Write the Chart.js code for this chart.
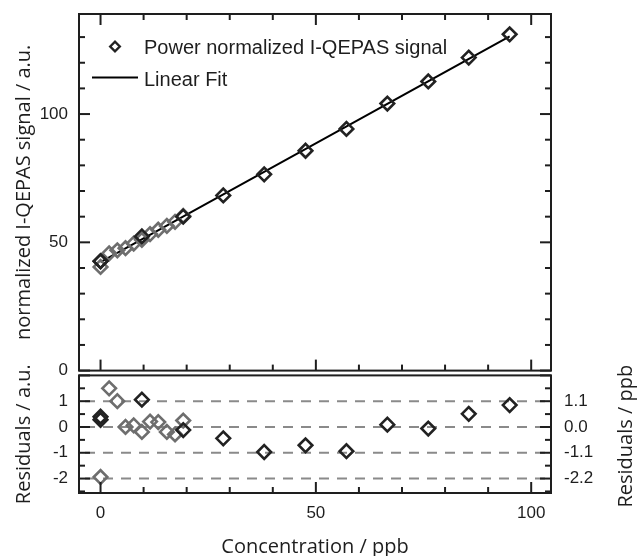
<!DOCTYPE html>
<html>
<head>
<meta charset="utf-8">
<script src="https://cdn.jsdelivr.net/npm/chart.js@4.4.1/dist/chart.umd.min.js"></script>
<style>
  body { margin: 0; background: #fff; }
  #wrap { position: relative; width: 638px; height: 556px; }
  canvas { position: absolute; left: 0; }
  #top { top: 0; }
  #res { top: 366px; }
</style>
</head>
<body>
<div id="wrap">
  <canvas id="top" width="638" height="380"></canvas>
  <canvas id="res" width="638" height="190"></canvas>
</div>
<script>
// dark diamonds, 0 - 95 ppb
let darkConc = [0, 0, 9.6, 19.2, 28.5, 38.0, 47.6, 57.1, 66.6, 76.1, 85.5, 95.0];
let darkSignal = [42.7, 42.6, 52.3, 60.0, 68.3, 76.5, 85.7, 94.2, 104.1, 112.7, 122.0, 131.1];
let darkResid = [0.40, 0.28, 1.06, -0.12, -0.44, -0.97, -0.71, -0.94, 0.09, -0.06, 0.51, 0.85];
// grey diamonds, 0 - 19 ppb
let grayConc = [0, 2.0, 3.9, 5.8, 7.7, 9.6, 11.5, 13.4, 15.4, 17.3, 19.2];
let graySignal = [40.4, 45.7, 46.9, 47.7, 49.5, 51.0, 53.2, 54.9, 56.4, 58.0, 60.3];
let grayResid = [-1.94, 1.50, 1.00, 0.00, 0.06, -0.19, 0.21, 0.19, -0.19, -0.29, 0.25];
// linear fit
let fitConc = [0, 95];
let fitSignal = [42.3, 130.3];
// ticks
let xTicks = [0, 50, 100];
let yTicks = [0, 50, 100];
let residTicks = [-2, -1, 0, 1];
let residPpbLabels = ["-2.2", "-1.1", "0.0", "1.1"];
let residGuides = [1, 0, -1, -2];

let pts = (xs, ys) => xs.map((x, i) => ({ x: x, y: ys[i] }));

let DARK = "#222222";
let GRAY = "#6e6e6e";
let tickFont = { family: "'Liberation Sans', Arial", size: 17 };
let titleFont = { family: "'Open Sans'", size: 20, lineHeight: 1.2 };

// fixed axis size, no extra label padding so both panels line up
let fixW = (w) => (s) => {
  s.width = w;
  s.paddingTop = 0; s.paddingBottom = 0; s.paddingLeft = 0; s.paddingRight = 0;
};
let fixH = (h) => (s) => {
  s.height = h;
  s.paddingTop = 0; s.paddingBottom = 0; s.paddingLeft = 0; s.paddingRight = 0;
};

// frame with inward ticks on the plot box
let framePlugin = {
  id: "frame",
  afterDatasetsDraw(chart, args, opts) {
    let ctx = chart.ctx;
    let a = chart.chartArea;
    let xs = chart.scales.x;
    let ys = chart.scales.y;
    ctx.save();
    ctx.strokeStyle = "#1e1e1e";
    ctx.lineWidth = 2;
    let seg = (x1, y1, x2, y2) => {
      ctx.beginPath();
      ctx.moveTo(x1, y1);
      ctx.lineTo(x2, y2);
      ctx.stroke();
    };
    for (let i = Math.ceil(xs.min / opts.xStep); i * opts.xStep <= xs.max; i++) {
      let v = i * opts.xStep;
      let px = xs.getPixelForValue(v);
      let len = Math.abs(v % opts.xMajor) < 1e-9 ? 11 : 6;
      if (opts.top) seg(px, a.top, px, a.top + len);
      if (opts.bottom) seg(px, a.bottom, px, a.bottom - len);
    }
    for (let i = Math.ceil(ys.min / opts.yStep - 1e-9); i * opts.yStep <= ys.max + 1e-9; i++) {
      let v = i * opts.yStep;
      let py = ys.getPixelForValue(v);
      let len = Math.abs(v % opts.yMajor) < 1e-9 ? 11 : 6;
      seg(a.left, py, a.left + len, py);
      seg(a.right, py, a.right - len, py);
    }
    ctx.strokeRect(a.left, a.top, a.width, a.height);
    ctx.restore();
  }
};

// dashed guide lines in the residual panel + right title (reads bottom to top)
let guidePlugin = {
  id: "guides",
  beforeDatasetsDraw(chart) {
    let ctx = chart.ctx;
    let a = chart.chartArea;
    let ys = chart.scales.y;
    ctx.save();
    ctx.strokeStyle = "#8a8a8a";
    ctx.lineWidth = 2;
    ctx.setLineDash([10, 8]);
    for (let v of residGuides) {
      let py = ys.getPixelForValue(v);
      ctx.beginPath();
      ctx.moveTo(a.left + 6, py);
      ctx.lineTo(a.right - 2, py);
      ctx.stroke();
    }
    ctx.restore();
  },
  afterDraw(chart) {
    let ctx = chart.ctx;
    let a = chart.chartArea;
    ctx.save();
    ctx.translate(626, (a.top + a.bottom) / 2 + 2);
    ctx.rotate(-Math.PI / 2);
    ctx.font = "20px 'Open Sans'";
    ctx.fillStyle = "#1e1e1e";
    ctx.textAlign = "center";
    ctx.textBaseline = "middle";
    ctx.fillText("Residuals / ppb", 0, 0);
    ctx.restore();
  }
};

// legend inside the top panel
let legendPlugin = {
  id: "legendBox",
  afterDraw(chart) {
    let ctx = chart.ctx;
    let sets = chart.data.datasets;
    ctx.save();
    ctx.font = "20px 'Liberation Sans', Arial";
    ctx.fillStyle = "#1e1e1e";
    ctx.textBaseline = "alphabetic";
    let cx = 115, cy = 46.5, r = 4.8;
    ctx.strokeStyle = DARK;
    ctx.lineWidth = 2.4;
    ctx.beginPath();
    ctx.moveTo(cx - r, cy);
    ctx.lineTo(cx, cy - r);
    ctx.lineTo(cx + r, cy);
    ctx.lineTo(cx, cy + r);
    ctx.closePath();
    ctx.stroke();
    ctx.fillText(sets[2].label, 144, 53.5);
    ctx.strokeStyle = "#000";
    ctx.lineWidth = 2;
    ctx.beginPath();
    ctx.moveTo(92, 77.5);
    ctx.lineTo(138, 77.5);
    ctx.stroke();
    ctx.fillText(sets[0].label, 144, 85.5);
    ctx.restore();
  }
};

let diamond = (color) => ({
  pointStyle: "rectRot",
  pointRadius: 6.8,
  pointHoverRadius: 6.8,
  borderWidth: 2.6,
  borderColor: color,
  backgroundColor: "rgba(0,0,0,0)",
  pointBackgroundColor: "rgba(0,0,0,0)"
});

new Chart(document.getElementById("top"), {
  type: "scatter",
  data: {
    datasets: [
      {
        label: "Linear Fit",
        data: pts(fitConc, fitSignal),
        showLine: true,
        borderColor: "#000",
        borderWidth: 2,
        pointRadius: 0,
        order: 3
      },
      Object.assign({ label: "grey", data: pts(grayConc, graySignal), order: 1 }, diamond(GRAY)),
      Object.assign({ label: "Power normalized I-QEPAS signal", data: pts(darkConc, darkSignal), order: 0 }, diamond(DARK))
    ]
  },
  options: {
    responsive: false,
    animation: false,
    devicePixelRatio: 1,
    layout: { padding: { left: 0, right: 87, top: 14, bottom: 8 } },
    plugins: {
      legend: { display: false },
      tooltip: { enabled: false },
      frame: { xStep: 10, xMajor: 50, yStep: 10, yMajor: 50, top: true, bottom: true }
    },
    scales: {
      x: { type: "linear", min: -5, max: 104.6, display: false },
      y: {
        type: "linear",
        min: 0,
        max: 139,
        afterFit: fixW(79),
        afterBuildTicks: (s) => { s.ticks = yTicks.map((v) => ({ value: v })); },
        grid: { display: false, drawTicks: false },
        border: { display: false },
        ticks: { padding: 11, color: "#1e1e1e", font: tickFont },
        title: {
          display: true,
          text: "normalized I-QEPAS signal / a.u.",
          color: "#1e1e1e",
          font: titleFont,
          padding: { top: 12.5, bottom: 0 }
        }
      }
    }
  },
  plugins: [framePlugin, legendPlugin]
});

new Chart(document.getElementById("res"), {
  type: "scatter",
  data: {
    datasets: [
      Object.assign({ label: "grey", data: pts(grayConc, grayResid), order: 1 }, diamond(GRAY)),
      Object.assign({ label: "dark", data: pts(darkConc, darkResid), order: 0 }, diamond(DARK))
    ]
  },
  options: {
    responsive: false,
    animation: false,
    devicePixelRatio: 1,
    layout: { padding: { left: 0, right: 0, top: 6, bottom: 0 } },
    plugins: {
      legend: { display: false },
      tooltip: { enabled: false },
      frame: { xStep: 10, xMajor: 50, yStep: 0.5, yMajor: 1, top: false, bottom: true }
    },
    scales: {
      x: {
        type: "linear",
        min: -5,
        max: 104.6,
        afterFit: fixH(63),
        afterBuildTicks: (s) => { s.ticks = xTicks.map((v) => ({ value: v })); },
        grid: { display: false, drawTicks: false },
        border: { display: false },
        ticks: { padding: 10, color: "#1e1e1e", font: tickFont, maxRotation: 0 },
        title: {
          display: true,
          text: "Concentration / ppb",
          color: "#1e1e1e",
          font: { family: "'Open Sans'", size: 20, lineHeight: 0.9 },
          padding: { top: 0, bottom: 0 }
        }
      },
      y: {
        type: "linear",
        position: "left",
        min: -2.56,
        max: 2.0,
        afterFit: fixW(79),
        afterBuildTicks: (s) => { s.ticks = residTicks.map((v) => ({ value: v })); },
        grid: { display: false, drawTicks: false },
        border: { display: false },
        ticks: { padding: 11, color: "#1e1e1e", font: tickFont },
        title: {
          display: true,
          text: "Residuals / a.u.",
          color: "#1e1e1e",
          font: titleFont,
          padding: { top: 12.5, bottom: 0 }
        }
      },
      y2: {
        type: "linear",
        position: "right",
        min: -2.56,
        max: 2.0,
        afterFit: fixW(87),
        afterBuildTicks: (s) => { s.ticks = residTicks.map((v) => ({ value: v })); },
        grid: { display: false, drawTicks: false },
        border: { display: false },
        ticks: {
          padding: 13,
          color: "#1e1e1e",
          font: tickFont,
          callback: (v) => residPpbLabels[residTicks.indexOf(v)]
        }
      }
    }
  },
  plugins: [guidePlugin, framePlugin]
});
</script>
</body>
</html>
